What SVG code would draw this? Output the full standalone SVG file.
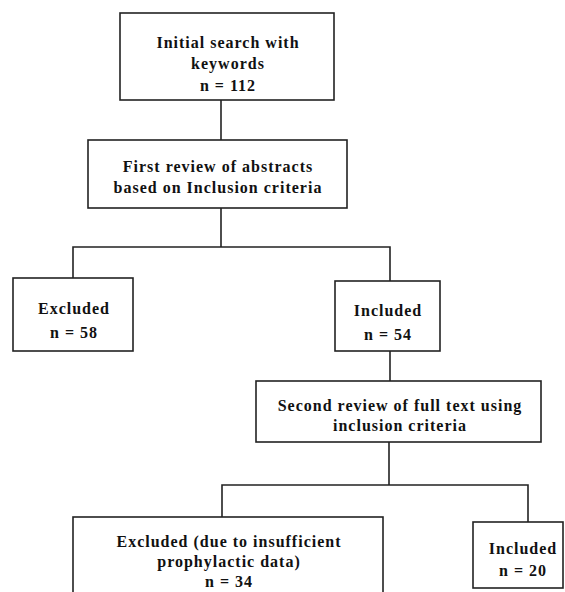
<svg xmlns="http://www.w3.org/2000/svg" width="565" height="592" viewBox="0 0 565 592">
<style>
.box{fill:#fff;stroke:#222;stroke-width:1.6}
.ln{fill:none;stroke:#222;stroke-width:1.6}
text{font-family:"Liberation Serif","Times New Roman",serif;font-weight:bold;font-size:16px;fill:#111;text-anchor:middle;letter-spacing:1px}
</style>
<rect width="565" height="592" fill="#fff"/>
<g id="connectors">
<path class="ln" d="M221 100V140"/>
<path class="ln" d="M221 208V247M73 278V247H390V281"/>
<path class="ln" d="M390 351V381"/>
<path class="ln" d="M389 442V485M222 517V485H528V522"/>
</g>
<g id="n1"><rect class="box" x="120" y="13" width="214" height="87"/>
<text x="228" y="48">Initial search with</text><text x="228" y="69">keywords</text><text x="228" y="91">n = 112</text></g>
<g id="n2"><rect class="box" x="88" y="140" width="259" height="68"/>
<text x="218" y="172">First review of abstracts</text><text x="218" y="193">based on Inclusion criteria</text></g>
<g id="n3"><rect class="box" x="13" y="278" width="120" height="73"/>
<text x="74" y="314">Excluded</text><text x="74" y="338">n = 58</text></g>
<g id="n4"><rect class="box" x="335" y="281" width="105" height="70"/>
<text x="388" y="316">Included</text><text x="388" y="340">n = 54</text></g>
<g id="n5"><rect class="box" x="256" y="381" width="285" height="61"/>
<text x="400" y="411">Second review of full text using</text><text x="400" y="431">inclusion criteria</text></g>
<g id="n6"><rect class="box" x="73" y="517" width="310" height="80"/>
<text x="229" y="547">Excluded (due to insufficient</text><text x="229" y="567">prophylactic data)</text><text x="229" y="587">n = 34</text></g>
<g id="n7"><rect class="box" x="473" y="522" width="90" height="66"/>
<text x="523" y="554">Included</text><text x="523" y="576">n = 20</text></g>
</svg>
